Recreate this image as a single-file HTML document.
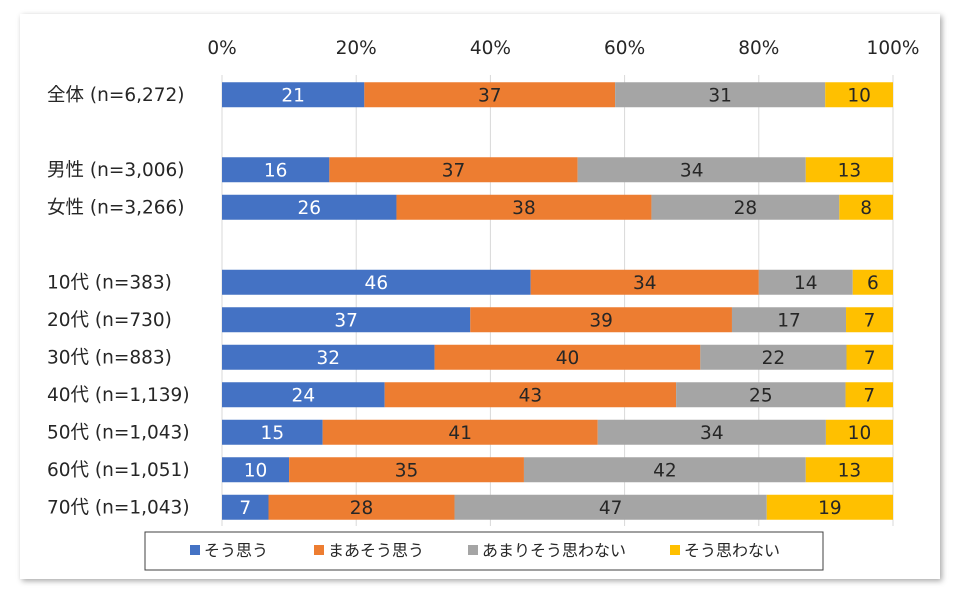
<!DOCTYPE html>
<html><head><meta charset="utf-8">
<style>
html,body{margin:0;padding:0;background:#fff;}
svg{display:block;font-family:"DejaVu Sans","Noto Sans CJK JP",sans-serif;}
</style></head>
<body>
<svg id="chart" width="960" height="600" viewBox="0 0 960 600">
<defs><filter id="sh" x="-5%" y="-5%" width="110%" height="110%"><feDropShadow dx="2" dy="2" stdDeviation="3" flood-color="#000" flood-opacity="0.35"/></filter></defs>
<rect x="20" y="14" width="920" height="565" fill="#fff" filter="url(#sh)"/>
<g id="grid"></g>
<g id="xticks"></g>
<g id="bars"></g>
<g id="ylabels"></g>
<g>
<rect x="145" y="532" width="678" height="38" fill="#fff" stroke="#404040" stroke-width="1"/>
<g id="legend"></g>
</g>
</svg>
<script>
const categories=["全体 (n=6,272)",null,"男性 (n=3,006)","女性 (n=3,266)",null,"10代 (n=383)","20代 (n=730)","30代 (n=883)","40代 (n=1,139)","50代 (n=1,043)","60代 (n=1,051)","70代 (n=1,043)"];
const seriesNames=["そう思う","まあそう思う","あまりそう思わない","そう思わない"];
const s1=[21,null,16,26,null,46,37,32,24,15,10,7];
const s2=[37,null,37,38,null,34,39,40,43,41,35,28];
const s3=[31,null,34,28,null,14,17,22,25,34,42,47];
const s4=[10,null,13,8,null,6,7,7,7,10,13,19];
const tickLabels=["0%","20%","40%","60%","80%","100%"];
const tickValues=[0,20,40,60,80,100];
const colors=["#4472C4","#ED7D31","#A5A5A5","#FFC000"];
const textColors=["#fff","#262626","#262626","#262626"];
const NS="http://www.w3.org/2000/svg";
const x0=222,x1=893,yTop=76,pitch=37.5,barH=25;
const xs=v=>x0+(x1-x0)*v/100;
const yc=i=>yTop+pitch*(i+0.5);
function mk(t,a,p){const e=document.createElementNS(NS,t);for(const k in a)e.setAttribute(k,a[k]);p.appendChild(e);return e;}
const grid=document.getElementById('grid'),xt=document.getElementById('xticks'),bars=document.getElementById('bars'),yl=document.getElementById('ylabels'),lg=document.getElementById('legend');
tickValues.forEach((v,i)=>{
 const l=mk('line',{x1:xs(v),x2:xs(v),y1:75,y2:526,stroke:'#d9d9d9','stroke-width':1},grid);
 
 
 const t=mk('text',{x:xs(v),y:54,'text-anchor':'middle','font-size':18.5,fill:'#262626'},xt);
 t.textContent=tickLabels[i];
 
 
});
const series=[s1,s2,s3,s4];
categories.forEach((c,i)=>{
 if(c===null)return;
 const t=mk('text',{x:47,y:yc(i)+6,'font-size':18.5,fill:'#262626'},yl);
 t.textContent=c;
 
 
 const vals=series.map(s=>s[i]);const tot=vals.reduce((a,b)=>a+b,0);
 let acc=0;
 vals.forEach((v,k)=>{
  const a=xs(acc/tot*100),b=xs((acc+v)/tot*100);acc+=v;
  const r=mk('rect',{x:a,y:yc(i)-barH/2,width:b-a,height:barH,fill:colors[k]},bars);
  
  
  const tx=mk('text',{x:(a+b)/2,y:yc(i)+6.5,'text-anchor':'middle','font-size':18.5,fill:textColors[k]},bars);
  tx.textContent=v;
  
  
 });
});
const lx=[190,314,468,670];
seriesNames.forEach((n,k)=>{
 const r=mk('rect',{x:lx[k],y:545,width:10,height:10,fill:colors[k]},lg);
 
 
 const t=mk('text',{x:lx[k]+14,y:556,'font-size':16,fill:'#262626'},lg);
 t.textContent=n;
 
 
});
</script>
</body></html>
